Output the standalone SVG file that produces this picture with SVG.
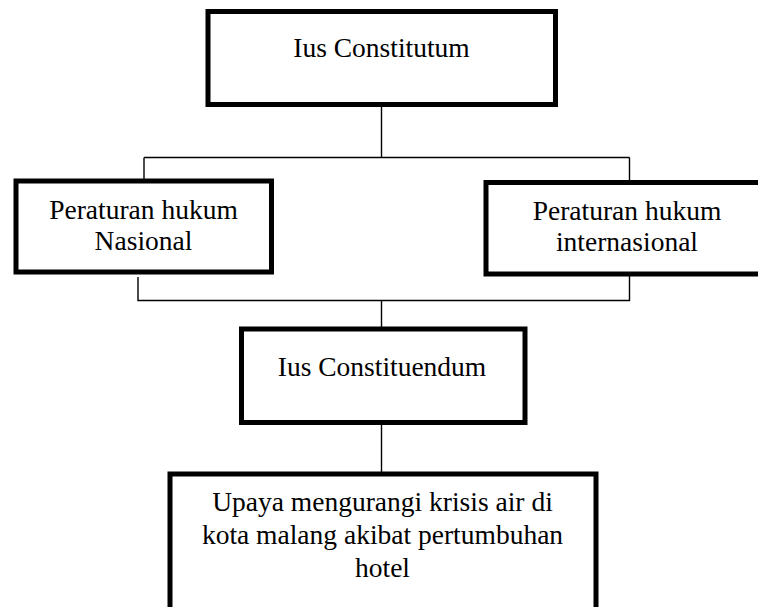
<svg xmlns="http://www.w3.org/2000/svg" width="758" height="607" viewBox="0 0 758 607">
<style>
.box{fill:#fff;stroke:#000;stroke-width:5}
.t{font-family:"Liberation Serif","Times New Roman",serif;font-size:27.5px;fill:#000;text-anchor:middle}
.c{fill:none;stroke:#000;stroke-width:1.4}
</style>
<rect width="758" height="607" fill="#fff"/>
<g id="connectors">
<path class="c" d="M381.5 107V157.5M144 157.5H629.5M144 157.5V179M629.5 157.5V180"/>
<path class="c" d="M138 277V300.5H629.5V276M381.5 300.5V327"/>
<path class="c" d="M381.5 425V472"/>
</g>
<g id="ius-constitutum">
<rect class="box" x="208" y="11.5" width="347.5" height="93"/>
<text class="t" x="381.5" y="57">Ius Constitutum</text>
</g>
<g id="peraturan-nasional">
<rect class="box" x="16" y="181" width="255.5" height="91"/>
<text class="t" x="143.5" y="219">Peraturan hukum</text>
<text class="t" x="143.5" y="250">Nasional</text>
</g>
<g id="peraturan-internasional">
<rect class="box" x="486" y="182.5" width="290" height="91.5"/>
<text class="t" x="627" y="219.5">Peraturan hukum</text>
<text class="t" x="627" y="250.5">internasional</text>
</g>
<g id="ius-constituendum">
<rect class="box" x="241.5" y="329" width="283.5" height="93.5"/>
<text class="t" x="382" y="375.5">Ius Constituendum</text>
</g>
<g id="upaya">
<rect class="box" x="170" y="474" width="426" height="150"/>
<text class="t" x="382.5" y="511">Upaya mengurangi krisis air di</text>
<text class="t" x="382.5" y="543.5">kota malang akibat pertumbuhan</text>
<text class="t" x="382.5" y="576.5">hotel</text>
</g>
</svg>
